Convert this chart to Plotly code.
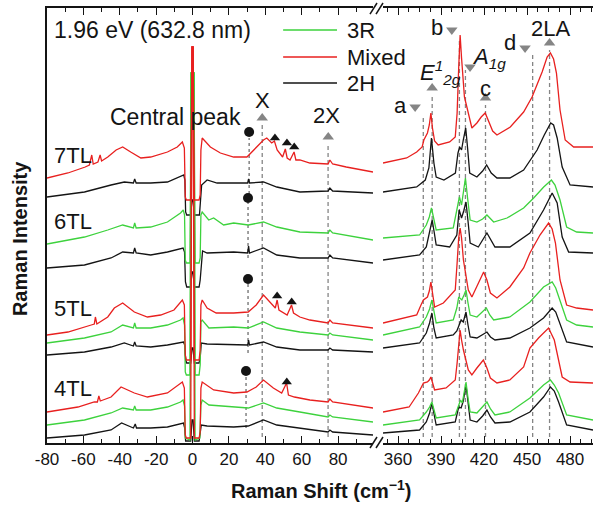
import plotly.graph_objects as go

# ---------------- data (intensity in arbitrary units, stacked offsets) ----------------
# Low-frequency window (cm^-1)
L7M_X = [-80, -68.5, -59, -56.7, -55.4, -54.6, -52, -50.8, -50, -46.6, -42, -38.4, -34, -28.4, -23, -13.8, -8.4, -5.6, -4.5, -4.0, -3.4, -1.0, -0.3, 0.3, 1.0, 3.6, 4.2, 4.6, 5.3, 9.8, 15.3, 22.6, 29.9, 33.5, 39, 40.8, 43.5, 45, 46.5, 49.5, 51, 52, 53.6, 55.8, 56.8, 59, 64.5, 74.5, 75.5, 77, 84.5, 99.2]
L7M_Y = [265, 270, 276, 278, 288, 279, 281, 288, 282, 286, 293, 296, 291, 285, 286, 291, 296, 301, 295, 246, 243, 243, 396, 396, 243, 243, 248, 293, 305, 296, 290, 286, 286, 293, 303, 305, 300, 302, 293, 286, 294, 285, 283, 291, 283, 283, 280, 279, 283, 279, 276, 271]
L7H_X = [-80, -59.4, -44.8, -37.5, -32.5, -31.8, -31, -23, -13.8, -6.6, -4.8, -4.2, -3.8, -3.2, -1.0, -0.3, 0.3, 1.0, 3.8, 4.4, 5.0, 8, 13.5, 22.6, 30.3, 30.8, 31.3, 39, 46.3, 59, 74.5, 75.5, 77, 99.2]
L7H_Y = [246, 251, 258, 261, 260, 264, 260, 260, 261, 266, 268, 263, 231, 228, 228, 243, 243, 228, 228, 243, 258, 263, 260, 260, 260, 264, 260, 261, 256, 251, 252, 255, 252, 250]
L6R_X = [-80, -59.4, -46.6, -38.4, -32.5, -31.8, -31, -23, -13.8, -6.6, -5.1, -4.4, -4.0, -3.4, -1.4, -0.8, 0.8, 1.4, 3.6, 4.2, 4.6, 5.3, 8.9, 11.6, 17.1, 22.6, 30.6, 39, 46.3, 59, 74.5, 75.5, 77, 99.2]
L6R_Y = [199, 206, 213, 218, 215, 220, 215, 216, 221, 230, 233, 228, 183, 180, 180, 370, 370, 180, 180, 185, 228, 231, 223, 225, 218, 220, 218, 221, 216, 211, 210, 213, 210, 203]
L6H_X = [-80, -59.4, -44.8, -38.4, -32.5, -31.8, -31, -23, -13.8, -6.6, -5.2, -4.4, -3.9, -3.2, -1.0, -0.3, 0.3, 1.0, 3.6, 4.2, 4.8, 5.5, 8, 22.6, 30.3, 30.8, 31.3, 39, 46.3, 59, 74.5, 75.5, 77, 99.2]
L6H_Y = [175, 178, 185, 191, 190, 195, 190, 188, 191, 194, 195, 191, 161, 156, 156, 171, 171, 156, 156, 163, 181, 192, 190, 191, 190, 197, 190, 195, 188, 185, 185, 188, 185, 180]
L5M_X = [-80, -68.5, -55.7, -54, -53.4, -52.6, -46.6, -43, -38.4, -32, -24.8, -17.5, -10.2, -5.6, -4.5, -4.0, -3.4, -1.0, -0.3, 0.3, 1.0, 3.6, 4.2, 4.6, 5.3, 8, 13, 22.6, 30.6, 35, 39, 42.6, 45.5, 46.5, 47.5, 52, 54.4, 55.5, 59, 64.5, 74.5, 75.5, 77, 99.2]
L5M_Y = [108, 111, 118, 119, 126, 119, 126, 135, 140, 131, 126, 128, 133, 143, 138, 88, 83, 83, 396, 396, 83, 83, 93, 138, 143, 135, 130, 130, 131, 138, 148, 141, 135, 143, 133, 128, 138, 130, 126, 123, 120, 123, 120, 115]
L5R_X = [-80, -59.4, -44.8, -38.4, -32.5, -31.8, -31, -23, -13.8, -6.6, -5.2, -4.4, -4.0, -3.4, -1.4, -0.8, 0.8, 1.4, 3.6, 4.2, 4.6, 5.3, 9, 22.6, 30.6, 39, 46.3, 59, 74.5, 75.5, 77, 99.2]
L5R_Y = [100, 105, 111, 118, 115, 120, 115, 115, 118, 123, 125, 118, 71, 68, 68, 370, 370, 68, 68, 78, 121, 123, 115, 116, 115, 121, 115, 111, 108, 110, 108, 103]
L5H_X = [-80, -59.4, -44.8, -37.5, -32.5, -31.8, -31, -23, -13.8, -6.6, -5.0, -4.3, -3.8, -3.2, -1.0, -0.3, 0.3, 1.0, 3.6, 4.2, 4.8, 8, 22.6, 30.3, 30.8, 31.3, 39, 46.3, 59, 74.5, 75.5, 77, 99.2]
L5H_Y = [88, 91, 96, 100, 97, 101, 97, 96, 98, 100, 101, 98, 83, 80, 80, 95, 95, 80, 80, 85, 100, 99, 98, 98, 103, 98, 101, 96, 93, 93, 95, 93, 91]
L4M_X = [-80, -63, -54, -52.3, -51.5, -50.7, -44.8, -39.3, -32, -24.8, -13.8, -5.6, -4.5, -4.0, -3.4, -1.0, -0.3, 0.3, 1.0, 3.6, 4.2, 4.6, 5.3, 11.6, 22.6, 29.9, 35, 39, 44.4, 49, 51.7, 52.7, 56, 64.5, 74.5, 75.5, 77, 99.2]
L4M_Y = [31, 36, 41, 41, 47, 42, 46, 56, 50, 46, 50, 61, 55, 8, 5, 5, 396, 396, 5, 5, 11, 55, 61, 53, 50, 51, 56, 63, 55, 50, 60, 48, 46, 43, 41, 44, 41, 35]
L4R_X = [-80, -59.4, -44.8, -38.4, -32.5, -31.8, -31, -23, -13.8, -6.6, -5.2, -4.4, -4.0, -1.4, -0.8, 0.8, 1.4, 4.0, 4.6, 5.3, 9, 22.6, 30.6, 39, 46.3, 59, 74.5, 75.5, 77, 99.2]
L4R_Y = [18, 23, 30, 35, 33, 37, 33, 33, 36, 41, 43, 37, 5, 3, 370, 370, 3, 5, 38, 43, 38, 36, 35, 40, 35, 31, 26, 28, 26, 21]
L4H_X = [-80, -59.4, -44.8, -39, -32.5, -31.5, -30.8, -23, -13.8, -6.6, -5.0, -4.3, -3.8, -1.0, -0.3, 0.3, 1.0, 3.6, 4.2, 4.8, 8, 22.6, 30.6, 39, 46.3, 59, 74.5, 75.5, 77, 99.2]
L4H_Y = [5, 8, 13, 20, 15, 19, 15, 15, 16, 19, 20, 15, 2, 2, 23, 23, 2, 2, 13, 18, 17, 16, 17, 23, 18, 15, 11, 13, 11, 8]

# High-frequency window (cm^-1)
R7M_X = [349.5, 366, 373, 376.8, 378, 380.5, 381.8, 382.9, 384, 385.5, 388, 396, 399.9, 401.2, 402.3, 403.3, 404.3, 405.3, 406.3, 408, 411.5, 415, 418, 420.8, 423.5, 426, 429, 438.3, 447.6, 453.5, 460.5, 464, 466.3, 468.5, 470.5, 473, 476.6, 482.5, 496]
R7M_Y = [280, 285, 291, 296, 303, 310, 318, 330, 315, 302, 298, 301, 306, 330, 375, 408, 385, 360, 346, 336, 315, 320, 326, 330, 320, 312, 308, 316, 331, 346, 371, 386, 390, 384, 370, 333, 303, 296, 296]
R7H_X = [349.5, 373, 379, 381.5, 383.3, 385, 386.6, 392, 400, 401.8, 403, 404.3, 405.5, 407.2, 408.5, 410, 415, 419, 421.8, 425, 429, 438, 447.6, 457, 462, 466.5, 468.5, 471, 474.5, 480, 496]
R7H_Y = [251, 256, 263, 275, 305, 280, 266, 263, 270, 290, 296, 293, 303, 315, 295, 270, 266, 272, 278, 270, 265, 265, 273, 293, 308, 320, 318, 305, 276, 258, 256]
R6R_X = [349.5, 375, 379.7, 381.8, 383.3, 385, 386.6, 398.5, 400.8, 402.8, 404.3, 405.6, 407, 408.5, 410.3, 415, 419, 422, 426.7, 436, 447.6, 454.6, 461.6, 467, 469.5, 473, 477.6, 484.6, 496]
R6R_Y = [205, 208, 218, 226, 235, 224, 213, 215, 232, 246, 238, 250, 265, 245, 223, 221, 224, 228, 221, 225, 235, 245, 256, 263, 258, 243, 216, 211, 210]
R6H_X = [349.5, 375, 379.7, 382, 383.8, 385.3, 386.6, 396, 401, 402.6, 404.3, 405.8, 407.4, 408.8, 410.3, 416, 419, 422, 427.6, 438, 452, 461.5, 467.5, 471, 474.5, 479, 496]
R6H_Y = [183, 188, 196, 210, 223, 210, 198, 196, 208, 233, 225, 232, 241, 222, 200, 196, 203, 210, 196, 196, 210, 233, 250, 240, 206, 191, 190]
R5M_X = [349.5, 373, 376, 377.7, 380.5, 381.8, 382.9, 384, 385.5, 391.6, 399.9, 401.2, 402.3, 403.3, 404.3, 405.6, 409, 411.5, 415, 419.7, 422, 424.4, 429, 438, 447.6, 452, 459, 465, 467.5, 469.8, 473, 477.6, 484.6, 496]
R5M_Y = [120, 128, 138, 143, 146, 152, 161, 150, 136, 140, 153, 180, 205, 215, 205, 183, 153, 146, 156, 171, 163, 150, 145, 156, 175, 190, 208, 220, 214, 200, 163, 138, 135, 133]
R5R_X = [349.5, 375, 379.7, 382, 383.6, 385, 386.6, 398.5, 401, 402.3, 404.5, 406, 407.4, 408.8, 410.3, 415, 419, 421.6, 424, 426.7, 438, 452, 461.5, 467.5, 470, 473, 477.6, 484.6, 496]
R5R_Y = [108, 116, 126, 134, 143, 130, 120, 123, 135, 146, 143, 148, 153, 140, 128, 126, 131, 135, 128, 123, 126, 141, 156, 161, 155, 143, 123, 118, 116]
R5H_X = [349.5, 375, 379.7, 382, 383.6, 385, 386.6, 398.5, 401, 402.3, 404, 405.5, 407.4, 408.8, 410.3, 415, 419, 422, 424.5, 427.6, 438, 452, 461.5, 467.5, 470, 472, 477.6, 496]
R5H_Y = [95, 100, 110, 120, 130, 115, 105, 108, 112, 116, 123, 121, 131, 118, 106, 105, 108, 111, 106, 103, 105, 115, 125, 135, 131, 123, 101, 96]
R4M_X = [349.5, 367.7, 374.2, 377.7, 380.5, 381.8, 382.9, 384, 385.5, 393.5, 399.9, 401.2, 402.3, 403.3, 404.3, 405.6, 409, 411.5, 415, 419.5, 422, 424.4, 429, 438, 447.6, 452, 458, 465, 469, 471, 474.5, 480, 496]
R4M_Y = [31, 36, 50, 60, 61, 63, 66, 60, 53, 55, 63, 80, 100, 113, 103, 93, 73, 68, 75, 83, 75, 65, 60, 63, 76, 95, 105, 115, 103, 90, 66, 61, 60]
R4R_X = [349.5, 375, 379.7, 382, 383.6, 385, 386.6, 399.9, 402.3, 403.6, 404.8, 406, 407.4, 408.8, 410.3, 415, 419, 422, 424.5, 427.6, 438, 452, 461.5, 466.3, 469, 472, 477.6, 496]
R4R_Y = [18, 23, 31, 36, 41, 32, 25, 28, 38, 43, 40, 50, 61, 45, 31, 30, 36, 41, 34, 28, 31, 45, 58, 63, 58, 50, 28, 23]
R4H_X = [349.5, 375, 379.7, 382, 383.6, 385, 386.6, 399.9, 402.3, 404, 405.5, 407.4, 408.8, 410.3, 415, 419, 422, 424.5, 427.6, 438, 452, 461.5, 466.3, 469, 472, 477.6, 496]
R4H_Y = [10, 13, 21, 30, 40, 28, 18, 21, 36, 35, 42, 58, 40, 23, 21, 27, 33, 26, 20, 21, 31, 46, 56, 52, 41, 18, 13]

# Mode guide lines (position, top of dashed line)
LEFT_MODE_X = [38.3, 74.5]
LEFT_MODE_TOP = [318, 298]
RIGHT_MODE_X = [377.6, 383.8, 402.8, 407.0, 421.0, 453.9, 465.7]
RIGHT_MODE_TOP = [328, 346, 403, 373, 338, 388, 393]
GUIDE_BOTTOM = 6

# arrow heads of mode labels
LEFT_UP_X = [38.3, 74.6]
LEFT_UP_Y = [325, 306]
RIGHT_UP_X = [383.8, 421.0, 465.7]
RIGHT_UP_Y = [355, 345, 400]
RIGHT_DOWN_X = [371.9, 397.5, 448.6, 410.2]
RIGHT_DOWN_Y = [336, 413, 395, 376]

# dots and triangles
DOT_X = [31.1, 30.5, 30.5, 29.4]
DOT_Y = [311, 245, 164, 72]
DOT_LINE_TOP = [305, 240, 160, 68]
DOT_LINE_BOTTOM = [243, 185, 90, 15]
TRI_X = [45.3, 51.9, 55.9, 46.5, 54.5, 51.8]
TRI_Y = [305, 300, 296, 147, 141, 61]

LEFT_TICKS = [-80, -60, -40, -20, 0, 20, 40, 60, 80]
LEFT_TICKTEXT = ["-80", "-60", "-40", "-20", "0", "20", "40", "60", "80"]
RIGHT_TICKS = [360, 390, 420, 450, 480]
RIGHT_TICKTEXT = ["360", "390", "420", "450", "480"]

LAYER_LABELS = ["7TL", "6TL", "5TL", "4TL"]
LAYER_LABEL_Y = [288, 222, 135, 55]
LEGEND_NAMES = ["3R", "Mixed", "2H"]
LEGEND_Y = [413, 386, 360]

# ---------------- styles ----------------
RED = "#e8201f"
GREEN = "#3dd23d"
BLACK = "#141414"
GRAY = "#858585"
FONT = "Arial"

fig = go.Figure()


def line(x, y, color, axis, width=1.3, dash=None):
    fig.add_trace(go.Scatter(x=x, y=y, mode="lines", xaxis=axis, yaxis="y",
                             line=dict(color=color, width=width, dash=dash),
                             showlegend=False, hoverinfo="skip"))


# guide lines
for mx, top in zip(LEFT_MODE_X, LEFT_MODE_TOP):
    line([mx, mx], [GUIDE_BOTTOM, top], GRAY, "x", 1.3, "4px,3px")
for mx, top in zip(RIGHT_MODE_X, RIGHT_MODE_TOP):
    line([mx, mx], [GUIDE_BOTTOM, top], GRAY, "x2", 1.3, "4px,3px")
for dx, t, b in zip(DOT_X, DOT_LINE_TOP, DOT_LINE_BOTTOM):
    line([dx, dx], [b, t], "#555555", "x", 1.1, "3px,3px")

# spectra: black, green, red order
for xs, ys, c, ax in [
    (L7H_X, L7H_Y, BLACK, "x"), (L6H_X, L6H_Y, BLACK, "x"),
    (L5H_X, L5H_Y, BLACK, "x"), (L4H_X, L4H_Y, BLACK, "x"),
    (L6R_X, L6R_Y, GREEN, "x"), (L5R_X, L5R_Y, GREEN, "x"), (L4R_X, L4R_Y, GREEN, "x"),
    (L7M_X, L7M_Y, RED, "x"), (L5M_X, L5M_Y, RED, "x"), (L4M_X, L4M_Y, RED, "x"),
    (R7H_X, R7H_Y, BLACK, "x2"), (R7M_X, R7M_Y, RED, "x2"),
    (R6H_X, R6H_Y, BLACK, "x2"), (R6R_X, R6R_Y, GREEN, "x2"),
    (R5H_X, R5H_Y, BLACK, "x2"), (R5R_X, R5R_Y, GREEN, "x2"), (R5M_X, R5M_Y, RED, "x2"),
    (R4H_X, R4H_Y, BLACK, "x2"), (R4R_X, R4R_Y, GREEN, "x2"), (R4M_X, R4M_Y, RED, "x2"),
]:
    line(xs, ys, c, ax)

# markers
fig.add_trace(go.Scatter(x=DOT_X, y=DOT_Y, mode="markers", xaxis="x", yaxis="y",
                         marker=dict(symbol="circle", size=10, color=BLACK),
                         showlegend=False, hoverinfo="skip"))
fig.add_trace(go.Scatter(x=TRI_X, y=TRI_Y, mode="markers", xaxis="x", yaxis="y",
                         marker=dict(symbol="triangle-up", size=9, color=BLACK),
                         showlegend=False, hoverinfo="skip"))
fig.add_trace(go.Scatter(x=LEFT_UP_X, y=LEFT_UP_Y, mode="markers", xaxis="x", yaxis="y",
                         marker=dict(symbol="triangle-up", size=10, color=GRAY),
                         showlegend=False, hoverinfo="skip"))
fig.add_trace(go.Scatter(x=RIGHT_UP_X, y=RIGHT_UP_Y, mode="markers", xaxis="x2", yaxis="y",
                         marker=dict(symbol="triangle-up", size=10, color=GRAY),
                         showlegend=False, hoverinfo="skip"))
fig.add_trace(go.Scatter(x=RIGHT_DOWN_X, y=RIGHT_DOWN_Y, mode="markers", xaxis="x2", yaxis="y",
                         marker=dict(symbol="triangle-down", size=10, color=GRAY),
                         showlegend=False, hoverinfo="skip"))

ann = []


def text(t, x, y, xref="x", yref="y", size=22, xanchor="center", yanchor="middle", **kw):
    ann.append(dict(text=t, x=x, y=y, xref=xref, yref=yref, showarrow=False,
                    font=dict(size=size, family=FONT, color=BLACK),
                    xanchor=xanchor, yanchor=yanchor, **kw))


text("1.96 eV (632.8 nm)", -77.2, 413, size=23, xanchor="left")
for lab, ly in zip(LAYER_LABELS, LAYER_LABEL_Y):
    text(lab, -77.2, ly, xanchor="left")
text("Central peak", -9.6, 326, size=23)
text("X", 38.3, 343)
text("2X", 73.9, 328)
text("a", 361.4, 338, xref="x2")
text("<i>E<sup>1</sup><sub>2g</sub></i>", 373.6, 371, xref="x2", xanchor="left")
text("b", 387.2, 416, xref="x2")
text("<i>A<sub>1g</sub></i>", 410.3, 385, xref="x2", xanchor="left")
text("c", 420.7, 355, xref="x2")
text("d", 438.2, 401, xref="x2")
text("2LA", 466.1, 415, xref="x2")

# legend
LEG_COLORS = [GREEN, RED, BLACK]
shapes = []
for name, ly, c in zip(LEGEND_NAMES, LEGEND_Y, LEG_COLORS):
    shapes.append(dict(type="line", xref="x", yref="y", x0=49.8, x1=79.4, y0=ly, y1=ly,
                       line=dict(color=c, width=1.5)))
    text(name, 83.8, ly, xanchor="left")

# axis titles
text("<b>Raman Shift (cm<sup>−1</sup>)</b>", 0.502, -0.108, xref="paper", yref="paper", size=20)
text("<b>Raman Intensity</b>", -0.0495, 0.471, xref="paper", yref="paper", size=20, textangle=-90)

# axis break marks
for (xa, xb, ya, yb) in [(0.5916, 0.6044, -0.0115, 0.0138), (0.6026, 0.6154, -0.0115, 0.0138),
                         (0.5916, 0.6044, 0.986, 1.0115), (0.6026, 0.6154, 0.986, 1.0115)]:
    shapes.append(dict(type="line", xref="paper", yref="paper", x0=xa, x1=xb, y0=ya, y1=yb,
                       line=dict(color=BLACK, width=1.5)))

axis_common = dict(ticks="inside", ticklen=7, tickwidth=1.3, tickcolor=BLACK,
                   showline=True, linecolor=BLACK, linewidth=1.5, mirror="ticks",
                   showgrid=False, zeroline=False,
                   tickfont=dict(size=17, family=FONT, color=BLACK))

fig.update_layout(
    width=593, height=509,
    margin=dict(l=47, r=0, t=8, b=66),
    plot_bgcolor="white", paper_bgcolor="white",
    font=dict(family=FONT, color=BLACK),
    showlegend=False,
    xaxis=dict(domain=[0, 0.5971], range=[-80, 99.2], tickmode="array",
               tickvals=LEFT_TICKS, ticktext=LEFT_TICKTEXT, anchor="y",
               minor=dict(tickmode="linear", tick0=-80, dtick=10, ticks="inside", ticklen=4,
                          tickcolor=BLACK, tickwidth=1.2, showgrid=False),
               **axis_common),
    xaxis2=dict(domain=[0.6154, 1], range=[349.5, 496], tickmode="array",
                tickvals=RIGHT_TICKS, ticktext=RIGHT_TICKTEXT, anchor="y",
                minor=dict(tickmode="linear", tick0=360, dtick=7.5, ticks="inside", ticklen=4,
                           tickcolor=BLACK, tickwidth=1.2, showgrid=False),
                **axis_common),
    yaxis=dict(domain=[0, 1], range=[0, 435], showticklabels=False, ticks="",
               showline=True, linecolor=BLACK, linewidth=1.5, mirror=False,
               showgrid=False, zeroline=False, anchor="x"),
    annotations=ann,
    shapes=shapes,
)

fig.write_html("out.html")
